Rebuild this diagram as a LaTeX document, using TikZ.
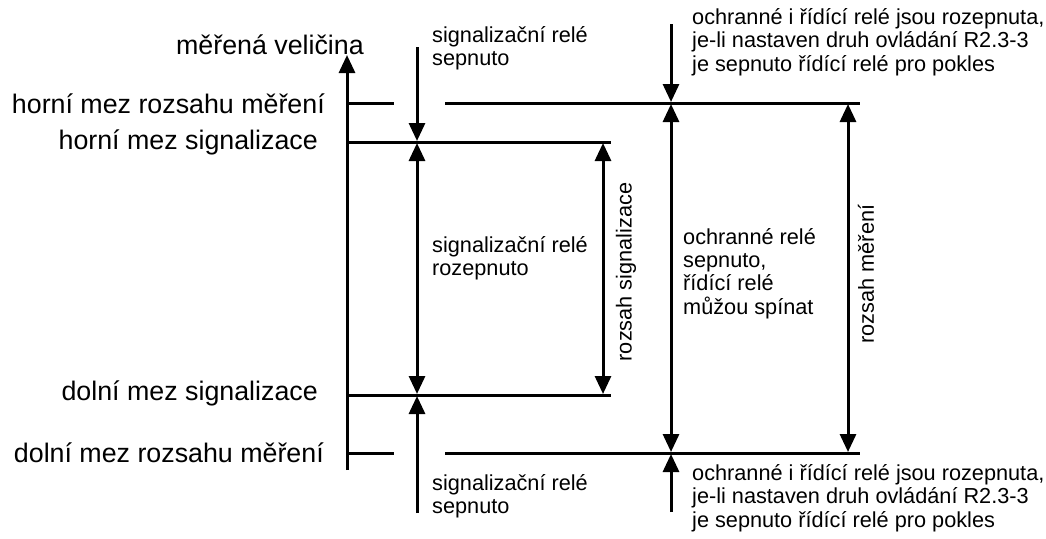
\documentclass[tikz,border=0pt]{standalone}
\usepackage{fontspec}
\setmainfont{Liberation Sans}
\usetikzlibrary{arrows.meta}
\begin{document}
\begin{tikzpicture}[x=1pt,y=-1pt,
  ln/.style={line width=3pt},
  tip/.style={-{Triangle[length=18pt,width=16pt]}},
  dtip/.style={{Triangle[length=18pt,width=16pt]}-{Triangle[length=18pt,width=16pt]}},
  big/.style={font=\fontsize{26.8}{30}\selectfont, inner sep=0pt},
  small/.style={font=\fontsize{21.7}{23.3}\selectfont, inner sep=0pt, align=left}]
\useasboundingbox (0,0) rectangle (1046,538);
% coordinates
\coordinate (axb) at (347,470);
\coordinate (axt) at (347,55);
\coordinate (hr1) at (347,103); \coordinate (hr2) at (394,103);
\coordinate (hr3) at (445,103); \coordinate (hr4) at (860,103);
\coordinate (hs1) at (347,142); \coordinate (hs2) at (611,142);
\coordinate (ds1) at (347,395); \coordinate (ds2) at (611,395);
\coordinate (dr1) at (347,453); \coordinate (dr2) at (394,453);
\coordinate (dr3) at (445,453); \coordinate (dr4) at (860,453);
% axis and levels
\draw[ln,tip] (axb) -- (axt);
\draw[ln] (hr1) -- (hr2);
\draw[ln] (hr3) -- (hr4);
\draw[ln] (hs1) -- (hs2);
\draw[ln] (ds1) -- (ds2);
\draw[ln] (dr1) -- (dr2);
\draw[ln] (dr3) -- (dr4);
% arrows x=417
\coordinate (a1s) at (417,47); \coordinate (a1e) at (417,141);
\coordinate (a2s) at (417,143); \coordinate (a2e) at (417,394);
\coordinate (a3s) at (417,513); \coordinate (a3e) at (417,396);
\draw[ln,tip] (a1s) -- (a1e);
\draw[ln,dtip] (a2s) -- (a2e);
\draw[ln,tip] (a3s) -- (a3e);
% rozsah signalizace x=603
\coordinate (b1) at (603,143); \coordinate (b2) at (603,394);
\draw[ln,dtip] (b1) -- (b2);
% x=671
\coordinate (c1s) at (671,24); \coordinate (c1e) at (671,102);
\coordinate (c2s) at (671,104); \coordinate (c2e) at (671,452);
\coordinate (c3s) at (671,512); \coordinate (c3e) at (671,454);
\draw[ln,tip] (c1s) -- (c1e);
\draw[ln,dtip] (c2s) -- (c2e);
\draw[ln,tip] (c3s) -- (c3e);
% rozsah mereni x=848
\coordinate (d1) at (848,104); \coordinate (d2) at (848,452);
\draw[ln,dtip] (d1) -- (d2);
% left labels
\node[big,anchor=east] (lv) at (364,45) {měřená veličina};
\node[big,anchor=east] (lhr) at (325,104) {horní mez rozsahu měření};
\node[big,anchor=east] (lhs) at (318,142) {horní mez signalizace};
\node[big,anchor=east] (lds) at (318,393) {dolní mez signalizace};
\node[big,anchor=east] (ldr) at (324,453) {dolní mez rozsahu měření};
% small labels
\node[small,anchor=west] (t1) at (432,48.5) {signalizační relé\\sepnuto};
\node[small,anchor=west] (t2) at (432,258.5) {signalizační relé\\rozepnuto};
\node[small,anchor=west] (t3) at (432,496) {signalizační relé\\sepnuto};
\node[small,anchor=west] (t4) at (683,273.5) {ochranné relé\\sepnuto,\\řídící relé\\můžou spínat};
\node[small,anchor=west] (t5) at (692,42) {ochranné i řídící relé jsou rozepnuta,\\je-li nastaven druh ovládání R2.3-3\\je sepnuto řídící relé pro pokles};
\node[small,anchor=west] (t6) at (692,498) {ochranné i řídící relé jsou rozepnuta,\\je-li nastaven druh ovládání R2.3-3\\je sepnuto řídící relé pro pokles};
\node[small,rotate=90] (r1) at (626,272) {rozsah signalizace};
\node[small,rotate=90] (r2) at (866,274) {rozsah měření};
\end{tikzpicture}
\end{document}
